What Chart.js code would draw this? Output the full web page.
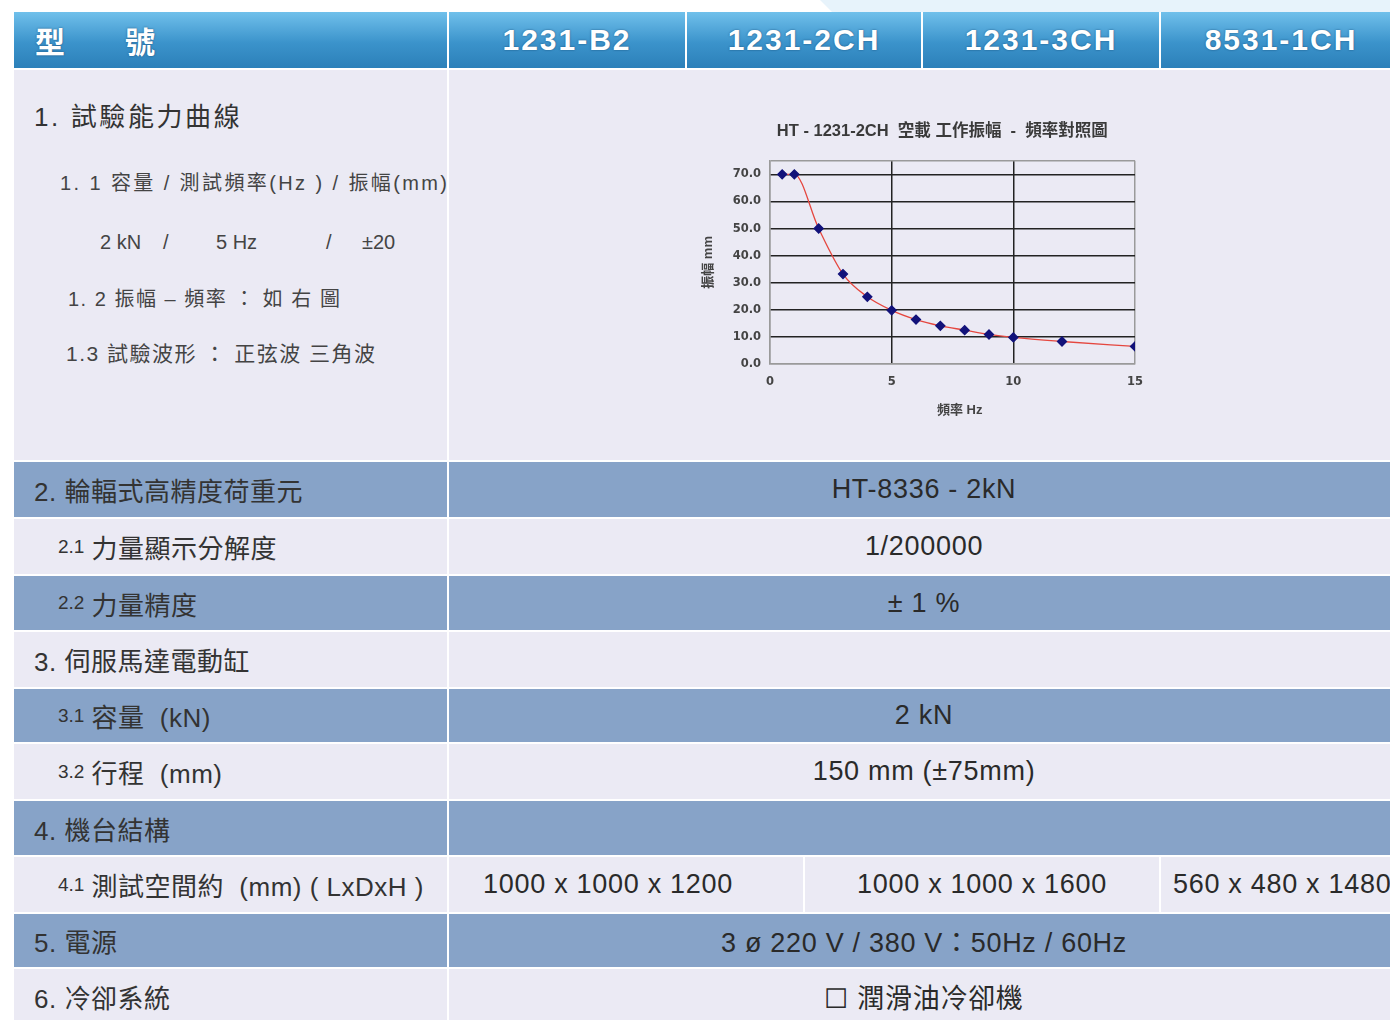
<!DOCTYPE html>
<html>
<head>
<meta charset="utf-8">
<script src="https://cdn.jsdelivr.net/npm/chart.js@4.4.1/dist/chart.umd.min.js"></script>
<style>
  html, body { margin: 0; padding: 0; background: #fff; }
  body { width: 1390px; height: 1020px; overflow: hidden; position: relative;
         font-family: "Liberation Sans", Arial, "Noto Sans CJK TC", sans-serif; color: #333; }
  .abs { position: absolute; box-sizing: border-box; }
  .light { background: #ebeaf4; }
  .blue { background: #87a3c8; }
  .head { background: linear-gradient(#70c0eb, #3b93cb 55%, #2c80b9); color: #fff; font-weight: bold;
          font-size: 30px; letter-spacing: 2px; text-shadow: 0 0 2px rgba(10, 50, 90, .7);
          display: flex; align-items: center; justify-content: center; }
  .cell { display: flex; align-items: center; font-size: 26px; letter-spacing: 0.5px; white-space: nowrap; }
  .lab { padding-left: 20px; }
  .sub { padding-left: 44px; }
  .sub small { font-size: 19px; margin-right: 7px; letter-spacing: 0; }
  .val { justify-content: center; color: #2a2a2a; font-size: 27px; letter-spacing: 0.7px; }
  .spec { position: absolute; white-space: nowrap; color: #444; line-height: 1; }
</style>
</head>
<body>
<div class="abs" style="left:790px;top:0;width:600px;height:12px;background:#e7f3fb;clip-path:polygon(30px 0,100% 0,100% 100%,42px 100%)"></div>
<div id="table"></div>
<canvas id="ampChart" class="abs" width="470" height="315" style="left:690px;top:115px;width:470px;height:315px"></canvas>

<script>
// table text
const models = ['1231-B2', '1231-2CH', '1231-3CH', '8531-1CH'];
const rowLabels = [
  ['lab', '2. 輪輻式高精度荷重元', 'HT-8336 - 2kN'],
  ['sub', '<small>2.1</small>力量顯示分解度', '1/200000'],
  ['sub', '<small>2.2</small>力量精度', '± 1 %'],
  ['lab', '3. 伺服馬達電動缸', ''],
  ['sub', '<small>3.1</small>容量&nbsp; (kN)', '2 kN'],
  ['sub', '<small>3.2</small>行程&nbsp; (mm)', '150 mm (±75mm)'],
  ['lab', '4. 機台結構', ''],
  ['sub', '<small>4.1</small>測試空間約&nbsp; (mm) ( LxDxH )', null],
  ['lab', '5. 電源', '3 ø 220 V / 380 V：50Hz / 60Hz'],
  ['lab', '6. 冷卻系統', '☐ 潤滑油冷卻機']
];
const spaceSizes = ['1000 x 1000 x 1200', '1000 x 1000 x 1600', '560 x 480 x 1480'];

// chart data
const freqHz = [0.5, 1, 2, 3, 4, 5, 6, 7, 8, 9, 10, 12, 15];
const amplitudeMm = [70, 70, 50, 33.2, 24.8, 19.8, 16.4, 14.1, 12.5, 10.9, 9.8, 8.3, 6.5];
const xTickValues = [0, 5, 10, 15];
const yTickValues = [0, 10, 20, 30, 40, 50, 60, 70];

// build the spec table
const rowTops = [462, 519, 576, 632, 689, 744, 801, 857, 914, 969];
const rowHeights = [55, 55, 54, 55, 53, 55, 54, 55, 53, 55];
let html = '';
html += '<div class="abs head" style="left:14px;top:12px;width:433px;height:56px;justify-content:flex-start;padding-left:21px;letter-spacing:0">型<span style="display:inline-block;width:60px"></span>號</div>';
const colLefts = [449, 687, 923, 1161];
const colWidths = [236, 234, 236, 240];
models.forEach((m, i) => {
  html += `<div class="abs head" style="left:${colLefts[i]}px;top:12px;width:${colWidths[i]}px;height:56px">${m}</div>`;
});
html += '<div class="abs light" style="left:14px;top:70px;width:433px;height:390px"></div>';
html += '<div class="abs light" style="left:449px;top:70px;width:960px;height:390px"></div>';
rowLabels.forEach((r, i) => {
  const cls = i % 2 === 0 ? 'blue' : 'light';
  const t = rowTops[i], h = rowHeights[i];
  html += `<div class="abs cell ${cls} ${r[0]}" style="left:14px;top:${t}px;width:433px;height:${h}px">${r[1]}</div>`;
  if (r[2] === null) {
    html += `<div class="abs cell val ${cls}" style="left:449px;top:${t}px;width:354px;height:${h}px;padding-right:36px">${spaceSizes[0]}</div>`;
    html += `<div class="abs cell val ${cls}" style="left:805px;top:${t}px;width:354px;height:${h}px">${spaceSizes[1]}</div>`;
    html += `<div class="abs cell val ${cls}" style="left:1161px;top:${t}px;width:250px;height:${h}px;padding-left:12px;justify-content:flex-start">${spaceSizes[2]}</div>`;
  } else {
    html += `<div class="abs cell val ${cls}" style="left:449px;top:${t}px;width:950px;height:${h}px">${r[2]}</div>`;
  }
});
// section 1 text
html += '<div class="spec" style="left:34px;top:104px;font-size:26px;letter-spacing:2.6px;color:#333">1. 試驗能力曲線</div>';
html += '<div class="spec" style="left:60px;top:173px;font-size:20px;letter-spacing:2.4px">1. 1 容量 / 測試頻率(Hz ) / 振幅(mm)</div>';
html += '<div class="spec" style="left:100px;top:232px;font-size:20px">2 kN</div>';
html += '<div class="spec" style="left:163px;top:232px;font-size:20px">/</div>';
html += '<div class="spec" style="left:216px;top:232px;font-size:20px">5 Hz</div>';
html += '<div class="spec" style="left:326px;top:232px;font-size:20px">/</div>';
html += '<div class="spec" style="left:362px;top:232px;font-size:20px">±20</div>';
html += '<div class="spec" style="left:68px;top:289px;font-size:20px;letter-spacing:1.5px">1. 2 振幅 – 頻率 ： 如 右 圖</div>';
html += '<div class="spec" style="left:66px;top:343px;font-size:21px;letter-spacing:1.5px">1.3 試驗波形 ： 正弦波 三角波</div>';
document.getElementById('table').innerHTML = html;

// amplitude / frequency chart
const fontFam = '"Liberation Sans", Arial, "Noto Sans CJK TC", sans-serif';
const tickFam = '"DejaVu Sans", "Noto Sans CJK TC", sans-serif';
const edgeGrid = (edges) => (ctx) => edges.includes(ctx.tick && ctx.tick.value) ? '#9a9a9a' : '#222';
const pad = n => '\u00a0'.repeat(n);

new Chart(document.getElementById('ampChart'), {
  type: 'line',
  data: {
    datasets: [{
      data: freqHz.map((f, i) => ({ x: f, y: amplitudeMm[i] })),
      borderColor: '#e5473f',
      borderWidth: 1.3,
      cubicInterpolationMode: 'monotone',
      pointStyle: 'rectRot',
      pointRadius: 4.5,
      pointBackgroundColor: '#12127a',
      pointBorderColor: '#12127a'
    }]
  },
  options: {
    responsive: false,
    animation: false,
    layout: { padding: { right: 25, bottom: 4 } },
    plugins: {
      legend: { display: false },
      tooltip: { enabled: false },
      title: {
        display: true,
        text: pad(13) + 'HT - 1231-2CH  空載 工作振幅  -  頻率對照圖',
        color: '#3a3a3a',
        font: { family: fontFam, size: 16.5, weight: 'bold' },
        padding: { top: 7, bottom: 19 }
      }
    },
    scales: {
      x: {
        type: 'linear', min: 0, max: 15,
        afterBuildTicks: s => { s.ticks = xTickValues.map(v => ({ value: v })); },
        afterFit: s => { s.height = 62; },
        grid: { color: edgeGrid([0, 15]), lineWidth: 1.5, drawTicks: false },
        border: { color: '#9a9a9a', width: 1.5 },
        ticks: { color: '#444', padding: 11, font: { family: tickFam, size: 11.5, weight: 'bold' } },
        title: { display: true, text: pad(4) + '頻率 Hz', color: '#444',
                 font: { family: fontFam, size: 13, weight: 'bold' }, padding: { bottom: 8 } }
      },
      y: {
        min: 0, max: 75,
        afterBuildTicks: s => { s.ticks = yTickValues.concat([75]).map(v => ({ value: v })); },
        afterFit: s => { s.width = 80; },
        grid: { color: edgeGrid([0, 75]), lineWidth: 1.5, drawTicks: false },
        border: { color: '#9a9a9a', width: 1.5 },
        ticks: { color: '#444', padding: 9, font: { family: tickFam, size: 11.5, weight: 'bold' },
                 callback: v => v === 75 ? '' : v.toFixed(1) },
        title: { display: true, text: '振幅 mm', color: '#444',
                 font: { family: fontFam, size: 13, weight: 'bold' }, padding: { top: 11 } }
      }
    }
  }
});
</script>
</body>
</html>
